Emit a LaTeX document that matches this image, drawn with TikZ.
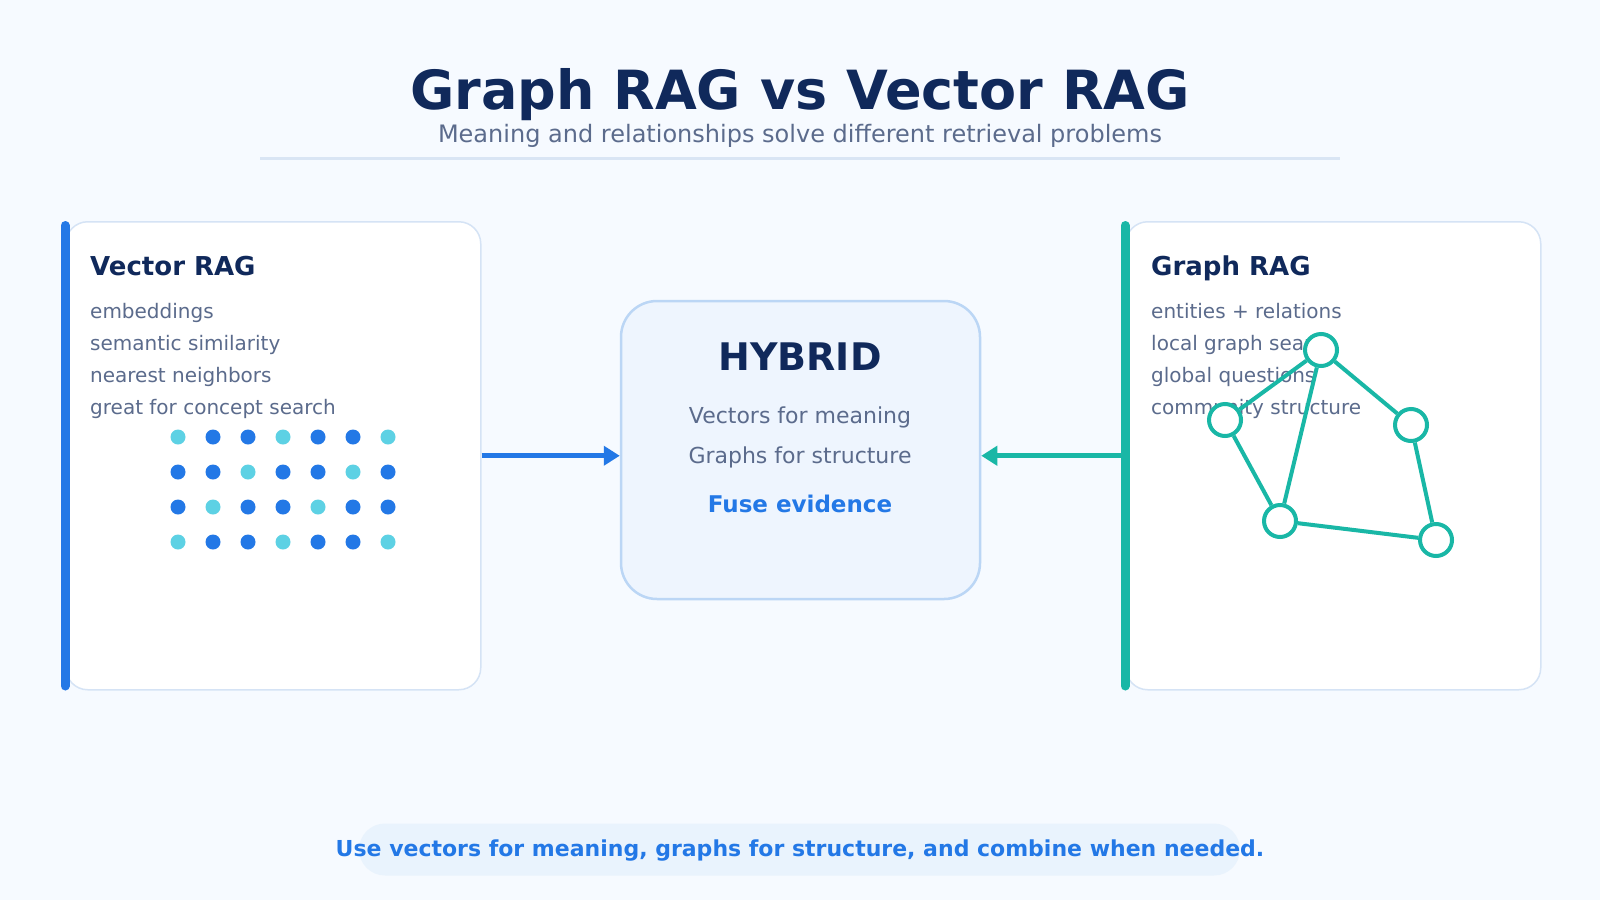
\documentclass[tikz,border=0pt]{standalone}
\usepackage{fontspec}
\setmainfont{DejaVu Sans}
\usetikzlibrary{arrows.meta}
\definecolor{bgc}{HTML}{F6FAFF}
\definecolor{navy}{HTML}{10295B}
\definecolor{slate}{HTML}{5B6B8C}
\definecolor{accent}{HTML}{2378E6}
\definecolor{tealc}{HTML}{19B7A6}
\definecolor{cyanc}{HTML}{5DD1E4}
\definecolor{cardline}{HTML}{D5E3F5}
\definecolor{hybfill}{HTML}{EEF5FE}
\definecolor{hybline}{HTML}{BBD6F5}
\definecolor{pillc}{HTML}{E9F3FD}
\definecolor{rulec}{HTML}{D9E5F4}
\newcommand\setfs[1]{\fontsize{#1}{#1}\selectfont}
\tikzset{
  card/.style={draw=cardline, line width=1.5pt, fill=white, rounded corners=22pt,
    minimum width=415pt, minimum height=468pt, inner sep=0pt, anchor=north west},
  cardtitle/.style={anchor=base west, font=\bfseries\setfs{26}, text=navy, inner sep=0pt},
  item/.style={anchor=base west, font=\setfs{20}, text=slate, inner sep=0pt},
  hybline/.style={anchor=base, font=\setfs{22}, text=slate, inner sep=0pt},
  bar/.style={line width=9pt, line cap=round},
  link/.style={line width=5pt, -{Triangle[length=16pt,width=19pt]}},
  gnode/.style={circle, draw=tealc, line width=4pt, fill=white, minimum size=32pt, inner sep=0pt},
  gedge/.style={draw=tealc, line width=4pt},
}
\begin{document}
\begin{tikzpicture}[x=1pt,y=-1pt]
\fill[bgc] (0,0) rectangle (1600,900);
\useasboundingbox (0,0) rectangle (1600,900);
% title
\node[anchor=base, font=\bfseries\setfs{54}, text=navy, inner sep=0pt] (title) at (800,109) {Graph RAG vs Vector RAG};
\node[anchor=base, font=\setfs{24}, text=slate, inner sep=0pt] (subtitle) at (800,142) {Meaning and relationships solve different retrieval problems};
\draw[rulec, line width=3pt] (260,158) -- (1340,158);
% vector card
\node[card] (vcard) at (65,221) {};
\draw[bar, accent] ([yshift=-4.5pt]vcard.north west) -- ([yshift=4.5pt]vcard.south west);
\node[cardtitle] (vtitle) at (90,275) {Vector RAG};
\node[item] (v1) at (90,318) {embeddings};
\node[item] (v2) at (90,350) {semantic similarity};
\node[item] (v3) at (90,382) {nearest neighbors};
\node[item] (v4) at (90,414) {great for concept search};
\foreach \i in {0,...,3}{
  \foreach \j in {0,...,6}{
    \pgfmathtruncatemacro{\m}{mod(\i+\j,3)}
    \ifnum\m=0 \fill[cyanc] (178+35*\j,437+35*\i) circle (7.5);
    \else \fill[accent] (178+35*\j,437+35*\i) circle (7.5); \fi
  }
}
% graph card
\node[card] (gcard) at (1125,221) {};
\draw[bar, tealc] ([yshift=-4.5pt]gcard.north west) -- ([yshift=4.5pt]gcard.south west);
\node[cardtitle] (gtitle) at (1151,275) {Graph RAG};
\node[item] (g1t) at (1151,318) {entities + relations};
\node[item] (g2t) at (1151,350) {local graph search};
\node[item] (g3t) at (1151,382) {global questions};
\node[item] (g4t) at (1151,414) {community structure};
\node[gnode] (n1) at (1321,350) {};
\node[gnode] (n2) at (1225,420) {};
\node[gnode] (n3) at (1411,425) {};
\node[gnode] (n4) at (1280,521) {};
\node[gnode] (n5) at (1436,540) {};
\draw[gedge] (n1) -- (n2);
\draw[gedge] (n1) -- (n4);
\draw[gedge] (n1) -- (n3);
\draw[gedge] (n2) -- (n4);
\draw[gedge] (n4) -- (n5);
\draw[gedge] (n3) -- (n5);
% hybrid
\node[draw=hybline, line width=2.5pt, fill=hybfill, rounded corners=36pt,
  minimum width=359pt, minimum height=298pt, inner sep=0pt] (hyb) at (800.5,450) {};
\node[anchor=base, font=\bfseries\setfs{38}, text=navy, inner sep=0pt] (htitle) at (800,370) {HYBRID};
\node[hybline] (h1) at (800,423) {Vectors for meaning};
\node[hybline] (h2) at (800,463) {Graphs for structure};
\node[anchor=base, font=\bfseries\setfs{23}, text=accent, inner sep=0pt] (h3) at (800,512) {Fuse evidence};
% arrows
\draw[link, accent] (vcard.east) -- (vcard.east -| hyb.west);
\draw[link, tealc] (gcard.west) -- (gcard.west -| hyb.east);
% bottom
\node[fill=pillc, rounded corners=26pt, minimum width=881pt, minimum height=52pt, inner sep=0pt] (pill) at (799.5,849.5) {};
\node[anchor=base, font=\bfseries\setfs{22}, text=accent, inner sep=0pt] (note) at (800,856) {Use vectors for meaning, graphs for structure, and combine when needed.};
\end{tikzpicture}
\end{document}
